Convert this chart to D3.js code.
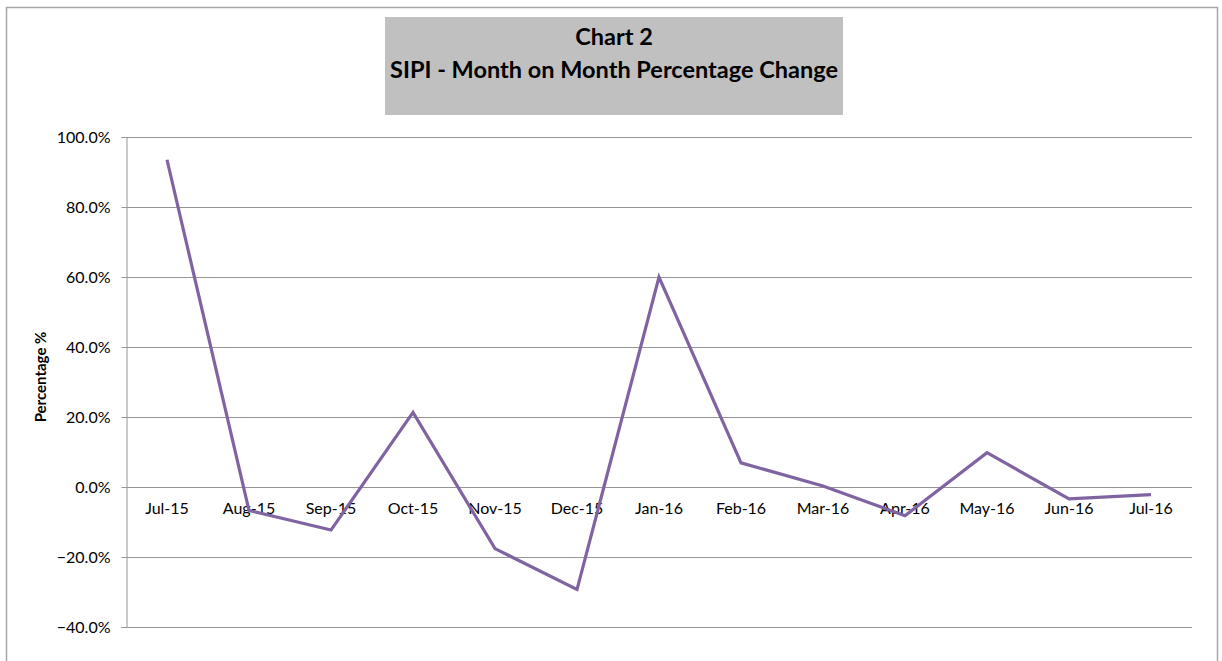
<!DOCTYPE html>
<html><head><meta charset="utf-8">
<script src="https://cdn.jsdelivr.net/npm/d3@7"></script>
<style>body{margin:0;background:#fff}svg{display:block}</style>
</head><body>
<svg id="c" width="1222" height="661"></svg>
<script>
const categories = ["Jul-15","Aug-15","Sep-15","Oct-15","Nov-15","Dec-15","Jan-16","Feb-16","Mar-16","Apr-16","May-16","Jun-16","Jul-16"];
const values = [93.5,-6.7,-12.3,21.3,-17.6,-29.3,60.0,6.9,0.3,-8.2,9.8,-3.4,-2.2];
const yTicks = [-40,-20,0,20,40,60,80,100];
const titleLines = ["Chart 2","SIPI - Month on Month Percentage Change"];
const yLabel = "Percentage %";

const svg = d3.select("#c");
const font = "Lato, 'Open Sans', sans-serif";
svg.append("rect").attr("x",6.5).attr("y",7.5).attr("width",1211).attr("height",700)
  .attr("fill","#fff").attr("stroke","#a6a6a6").attr("stroke-width",1.5);

const L=126, R=1192, T=137, B=627;
const x = d3.scaleBand().domain(categories).range([L,R]);
const y = d3.scaleLinear().domain([-40,100]).range([B,T]);

// gridlines
svg.append("g").selectAll("line").data(yTicks).join("line")
  .attr("x1",L).attr("x2",R).attr("y1",d=>Math.round(y(d))+0.5).attr("y2",d=>Math.round(y(d))+0.5)
  .attr("stroke","#969696").attr("stroke-width",1);

// y axis
const ya = svg.append("g").attr("transform",`translate(${L+0.5},0)`)
  .call(d3.axisLeft(y).tickValues(yTicks).tickFormat(d=>d3.format(".1f")(d)+"%").tickSize(5).tickPadding(11));
ya.select(".domain").attr("stroke","#969696");
ya.selectAll(".tick line").attr("stroke","#969696");
ya.selectAll(".tick text").attr("font-family",font).attr("font-size",16).attr("fill","#000");

// x labels
const xa = svg.append("g").attr("transform",`translate(0,${y(0)})`)
  .call(d3.axisBottom(x).tickSize(0).tickPadding(16));
xa.select(".domain").remove();
xa.selectAll(".tick text").attr("font-family",font).attr("font-size",16).attr("fill","#000");

// line
const line = d3.line().x((d,i)=>x(categories[i])+x.bandwidth()/2).y(d=>y(d));
svg.append("path").datum(values).attr("d",line).attr("fill","none")
  .attr("stroke","#8064a2").attr("stroke-width",3.2).attr("stroke-linejoin","miter");

// title
svg.append("rect").attr("x",385).attr("y",17).attr("width",458).attr("height",98).attr("fill","#c0c0c0");
svg.append("g").selectAll("text").data(titleLines).join("text")
  .attr("x",614).attr("y",(d,i)=>45+i*33).attr("text-anchor","middle")
  .attr("font-family",font).attr("font-weight","bold").attr("font-size",23.5).attr("fill","#000").text(d=>d);

// y label
svg.append("text").attr("transform",`translate(46,${(T+B)/2 - 5}) rotate(-90)`)
  .attr("text-anchor","middle").attr("font-family",font).attr("font-weight","bold").attr("font-size",15).text(yLabel);
</script>
</body></html>
